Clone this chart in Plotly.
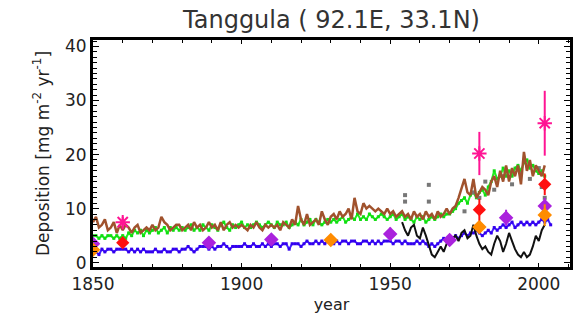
import plotly.graph_objects as go

years = list(range(1850, 2003))

brown = [7.5, 8.5, 6.5, 7, 8, 6, 6.5, 7.5, 5.5, 7,
         6, 7, 6.5, 5.5, 6.5, 7, 5.5, 6, 6.5, 6,
         7, 6, 6.5, 8.5, 7.5, 7, 6, 6.5, 7, 7,
         6, 6.5, 7, 6, 7.5, 6.5, 7, 6, 6.5, 7.5,
         6.5, 7, 6, 7.5, 6, 7, 7.5, 6.5, 7, 6.5,
         7, 6.5, 6, 7, 6.5, 7.5, 6.5, 6, 7, 6.5,
         7, 6.5, 7, 6, 7.5, 7, 6.5, 8, 7, 10.5,
         8, 7, 9, 7, 7.5, 8, 7, 9.5, 8, 7,
         8.5, 9, 8, 9.5, 8.5, 9, 10, 8, 12, 9.5,
         9, 11, 10, 10.5, 10, 9.5, 10, 9.5, 9, 10,
         9, 9.5, 8.5, 9, 9.5, 8.5, 9, 8, 9.5, 8.5,
         9, 8, 9.5, 8.5, 9, 8, 9.5, 8.5, 9, 10,
         9, 10, 10.5, 12, 14, 15.5, 13, 12.5, 15.5, 12,
         13, 14, 13.5, 12.5, 15, 16, 14, 17, 15, 18,
         15, 17.5, 16, 18, 14.5, 20.5, 17, 19, 16, 18,
         17, 16, 18]

green = [5, 5, 4.5, 5, 4.5, 5, 5, 4.5, 5, 4.5,
         5, 4.5, 5.5, 5, 6, 5.5, 6, 5, 6, 5.5,
         6, 6.5, 5.5, 6, 6.5, 5.5, 6.5, 6, 6.5, 6,
         6.5, 6, 6.5, 7, 6, 6.5, 6, 7, 6.5, 6,
         7, 6.5, 6, 7, 7.5, 6.5, 6, 7, 6.5, 7,
         7.5, 6.5, 7, 6.5, 7, 7.5, 7, 6.5, 7, 7.5,
         7, 6.5, 7.5, 7, 7, 7.5, 6.5, 7, 7.5, 7,
         8, 7, 7.5, 8, 7, 8, 7.5, 7, 7.5, 8,
         7.5, 8, 7.5, 8, 8.5, 7.5, 8, 8.5, 8, 9,
         8, 8.5, 8, 9, 8.5, 8, 8.5, 9, 8.5, 8,
         8.5, 9, 8, 8.5, 9, 8, 8.5, 8, 7.5, 8.5,
         8, 8.5, 7.5, 8, 8.5, 8, 8.5, 9, 8.5, 9,
         9, 9.5, 10, 11, 11.5, 12, 11, 12.5, 13, 12,
         13, 13.5, 12.5, 14, 15, 17, 15.5, 16, 17.5, 16,
         17, 16, 17.5, 18, 17, 18.5, 19, 17.5, 18, 17,
         16.5, 17, 16]

blue_years = list(range(1850, 2005))
blue = [2.5, 2, 1.5, 2.5, 2, 2.5, 2.5, 2, 2.5, 2.5,
        2.5, 2.5, 2, 2.5, 2, 2.5, 2, 2.5, 2, 2,
        2, 2.5, 2, 2, 2.5, 2, 2, 2.5, 2.5, 2,
        2.5, 2.5, 3, 2.5, 2, 2.5, 3, 3, 3, 2.5,
        3, 2.5, 3, 3, 3.5, 3, 2.5, 3, 3, 3,
        3, 3.5, 3, 3, 3.5, 3, 3, 3.5, 3, 3.5,
        3, 3.5, 3.5, 3, 3.5, 3.5, 2.5, 3.5, 3.5, 3.5,
        3, 3.5, 4, 3.5, 3.5, 4, 3.5, 4, 3.5, 4,
        4, 3.5, 4, 3.5, 4, 4, 3.5, 4, 4, 3.5,
        3.5, 4, 4, 3.5, 4, 3.5, 4, 3.5, 4, 4,
        4, 3.5, 4, 4, 3.5, 4, 3.5, 3.5, 3.5, 4,
        3.5, 4, 3.5, 3, 3.5, 3, 3.5, 4, 4.5, 4,
        4, 4.5, 5, 4.5, 5, 5.5, 5, 5.5, 5.5, 6,
        5.5, 5, 5.5, 6, 5.5, 6.5, 6, 6.5, 7, 6.5,
        7, 7.5, 6.5, 7, 7.5, 7, 7.5, 7, 7.5, 7,
        7.5, 8, 7.5, 8, 7]

black_years = list(range(1954, 2003))
black = [7.5, 6, 5, 6.5, 7, 5, 4.5, 6.5, 5, 3,
         1.5, 1, 2, 3, 2, 3.5, 4, 4.5, 5, 4,
         5.5, 6, 4.5, 5, 7, 5, 3.5, 2.5, 3, 2,
         1.5, 3.5, 5, 4, 2, 3.5, 5.5, 4, 2.5, 1.5,
         1, 2, 1, 1.5, 3, 5, 4, 6, 7]

gray_years = [1955, 1955, 1963, 1963, 1975, 1978, 1980, 1982, 1985, 1988, 1991, 1994, 1997, 2000, 2001, 2002]
gray_vals = [11.3, 12.5, 14.4, 11.3, 9.5, 13, 12, 15, 13.5, 16, 14.5, 16.5, 15.5, 17.5, 14, 12]

pink_years = [1860, 1980, 2002]
pink_vals = [7.5, 20.2, 25.8]
pink_err = [1.0, 4.0, 6.0]

red_years = [1860, 1980, 2002]
red_vals = [3.7, 9.8, 14.5]
red_err = [0.6, 2.0, 2.0]

orange_years = [1850, 1930, 1980, 2002]
orange_vals = [2.4, 4.2, 6.6, 8.8]
orange_err = [0.8, 0.8, 1.2, 2.0]

purple_years = [1850, 1889, 1910, 1950, 1970, 1989, 2002]
purple_vals = [3.5, 3.7, 4.3, 5.3, 4.2, 8.3, 10.5]
purple_err = [0.8, 0.8, 1.0, 1.2, 1.0, 1.5, 1.5]

fig = go.Figure()

fig.add_trace(go.Scatter(x=years, y=green, mode="lines+markers",
                         line=dict(color="#22ee22", width=2),
                         marker=dict(size=3, color="#11dd11", symbol="square")))
fig.add_trace(go.Scatter(x=blue_years, y=blue, mode="lines+markers",
                         line=dict(color="#4422ff", width=2),
                         marker=dict(size=3, color="#3300ee", symbol="square")))
fig.add_trace(go.Scatter(x=gray_years, y=gray_vals, mode="markers",
                         marker=dict(size=4, color="#777777", symbol="square")))
fig.add_trace(go.Scatter(x=years, y=brown, mode="lines",
                         line=dict(color="#a0522d", width=2.5)))
fig.add_trace(go.Scatter(x=black_years, y=black, mode="lines",
                         line=dict(color="#111111", width=2)))

def pts(xs, ys, es, color, symbol, size):
    fig.add_trace(go.Scatter(x=xs, y=ys, mode="markers",
                             error_y=dict(type="data", array=es, color=color, thickness=2, width=0),
                             marker=dict(size=size, color=color, symbol=symbol,
                                         line=dict(color=color, width=2))))

pts(purple_years, purple_vals, purple_err, "#aa22dd", "diamond", 9)
pts(orange_years, orange_vals, orange_err, "#ff8c00", "diamond", 9)
pts(red_years, red_vals, red_err, "#ff1010", "diamond", 8)
pts(pink_years, pink_vals, pink_err, "#ff1493", "asterisk", 12)

fig.update_layout(
    width=583, height=326,
    margin=dict(l=93, r=10, t=40, b=59),
    paper_bgcolor="white", plot_bgcolor="white",
    showlegend=False,
    font=dict(family="DejaVu Sans, Arial, sans-serif", color="#222222", size=14),
    title=dict(text="Tanggula ( 92.1E, 33.1N)", xref="paper", x=0.5, xanchor="center",
               y=0.94, yanchor="middle",
               font=dict(size=24, color="#333333")),
    xaxis=dict(range=[1850, 2010.5], tickvals=[1850, 1900, 1950, 2000],
               ticks="inside", ticklen=4, tickcolor="black", showgrid=False, zeroline=False,
               showline=True, linecolor="black", linewidth=3, mirror="allticks",
               minor=dict(dtick=10, tick0=1850, ticks="inside", ticklen=3, tickcolor="black"),
               title=dict(text="year", font=dict(size=16), standoff=6),
               tickfont=dict(size=17, color="#222222")),
    yaxis=dict(range=[-0.8, 41.2], tickvals=[0, 10, 20, 30, 40],
               ticks="inside", ticklen=6, tickcolor="black", showgrid=False, zeroline=False,
               showline=True, linecolor="black", linewidth=3, mirror="allticks",
               minor=dict(dtick=1, tick0=0, ticks="inside", ticklen=4, tickcolor="black"),
               title=dict(text="Deposition [mg m<sup>-2</sup> yr<sup>-1</sup>]", font=dict(size=17), standoff=12),
               tickfont=dict(size=17, color="#222222")),
)

fig.write_html("out.html")
